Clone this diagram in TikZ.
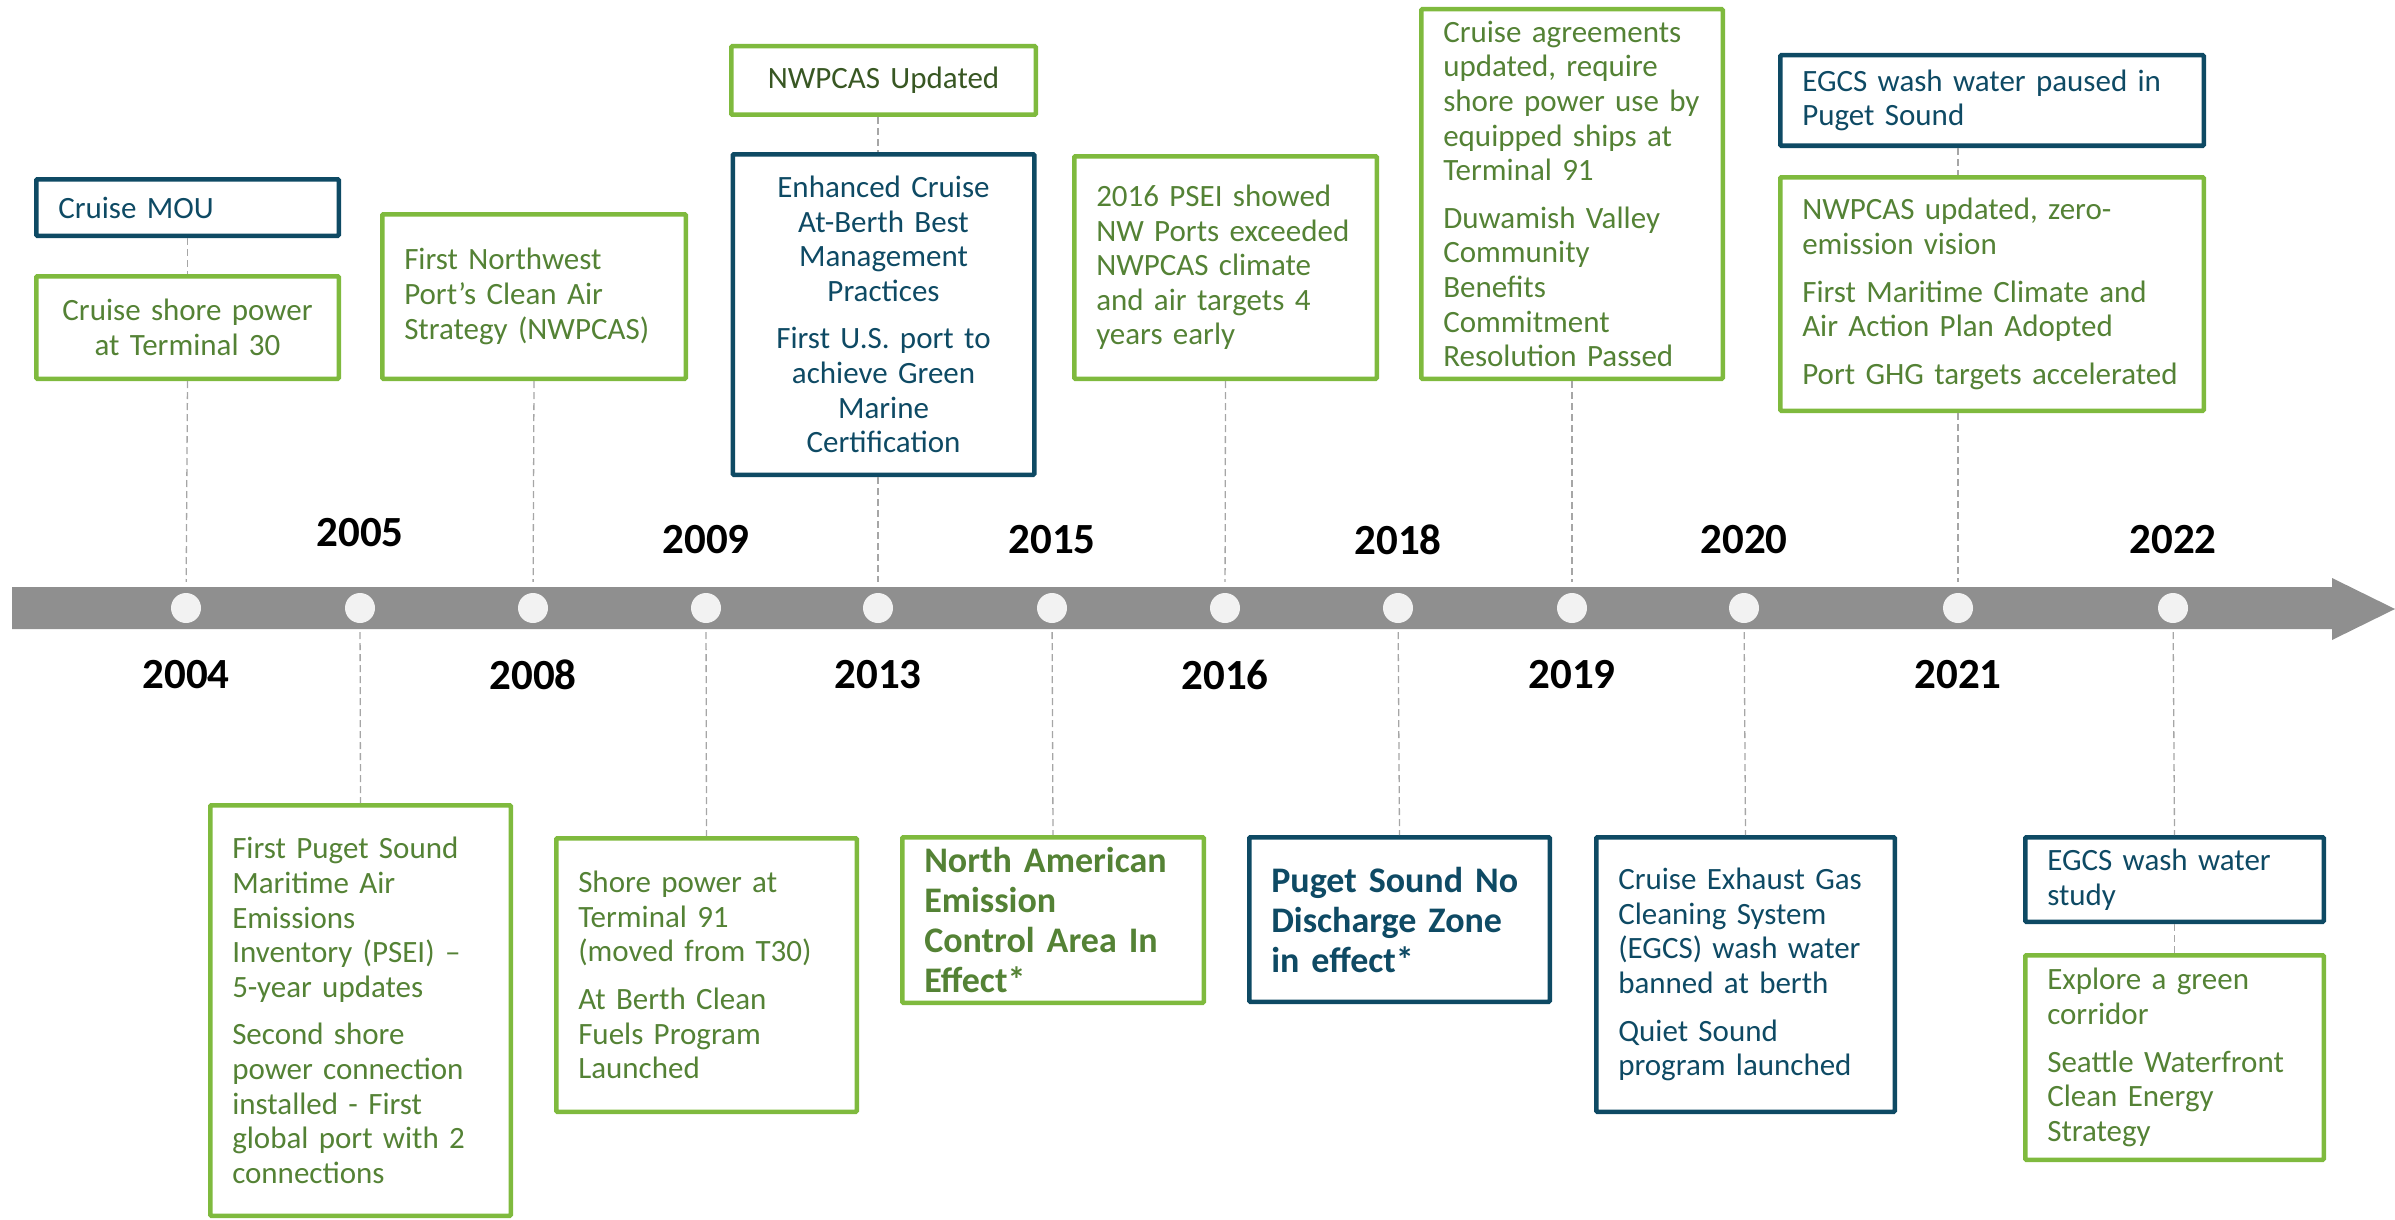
\documentclass[tikz,border=0pt]{standalone}
\usepackage{fontspec}
\setmainfont{Carlito}
\usepackage{xcolor}
\usepackage{tikz}
\usetikzlibrary{positioning}

\definecolor{portblue}{HTML}{0E4A64}
\definecolor{portgreen}{HTML}{7FBA3E}
\definecolor{greentext}{HTML}{548235}
\definecolor{nwtext}{HTML}{385723}
\definecolor{arrowgray}{HTML}{8F8F8F}
\definecolor{dotwhite}{HTML}{F2F2F2}
\definecolor{leadergray}{HTML}{A6A6A6}

\begin{document}
\begin{tikzpicture}[x=1pt, y=-1pt,
          event/.style = {rectangle, draw, line width=4.5pt, rounded corners=1pt,
            inner xsep=22pt, inner ysep=3pt, align=left,
            font=\fontsize{31}{34.6}\selectfont},
          green event/.style = {event, draw=portgreen, text=greentext},
          blue event/.style = {event, draw=portblue, text=portblue},
          key event/.style = {font=\fontsize{36}{40}\selectfont\bfseries},
          year/.style = {font=\fontsize{43}{50}\selectfont\bfseries, text=black},
          tick dot/.style = {circle, fill=dotwhite, minimum size=30pt, inner sep=0pt},
          leader/.style = {draw=leadergray, line width=1.3pt, dash pattern=on 7pt off 4pt}]
        \useasboundingbox (0,0) rectangle (2395,1220);

        % time axis
        \fill[arrowgray] (12,587) -- (2332,587) -- (2332,578) -- (2395,609)
            -- (2332,640) -- (2332,629) -- (12,629) -- cycle;

        \node[tick dot] (d04) at (186,608) {};
        \node[tick dot] (d05) at (360,608) {};
        \node[tick dot] (d08) at (533,608) {};
        \node[tick dot] (d09) at (706,608) {};
        \node[tick dot] (d13) at (878,608) {};
        \node[tick dot] (d15) at (1052,608) {};
        \node[tick dot] (d16) at (1225,608) {};
        \node[tick dot] (d18) at (1398,608) {};
        \node[tick dot] (d19) at (1572,608) {};
        \node[tick dot] (d20) at (1744,608) {};
        \node[tick dot] (d21) at (1958,608) {};
        \node[tick dot] (d22) at (2173,608) {};

        \node[year] (y04) at (186,675) {2004};
        \node[year] (y05) at (360,533) {2005};
        \node[year] (y08) at (533,675) {2008};
        \node[year] (y09) at (706,540) {2009};
        \node[year] (y13) at (878,675) {2013};
        \node[year] (y15) at (1052,540) {2015};
        \node[year] (y16) at (1225,675) {2016};
        \node[year] (y18) at (1398,540) {2018};
        \node[year] (y19) at (1572,675) {2019};
        \node[year] (y20) at (1744,540) {2020};
        \node[year] (y21) at (1958,675) {2021};
        \node[year] (y22) at (2173,540) {2022};

        % events above the axis
        \node[blue event, text width=258.5pt, minimum height=56.5pt]
            (mou) at (187.5,207.5) {Cruise MOU};
        \node[green event, align=center, text width=258.5pt, minimum height=102.5pt,
            below=36pt of mou] (shore30) {Cruise shore power\\at Terminal 30};
        \node[green event, text width=259.5pt, minimum height=164.5pt]
            (nwpcas) at (534,296.5) {First Northwest\\Port's Clean Air\\Strategy (NWPCAS)};
        \node[green event, align=center, text=nwtext, text width=260.5pt, minimum height=68.5pt]
            (nwupd) at (883.5,80.5) {NWPCAS Updated};
        \node[blue event, align=center, text width=257.5pt, minimum height=320.5pt,
            below=35pt of nwupd] (bmp)
            {Enhanced Cruise\\At-Berth Best\\Management\\Practices\\[13pt]First U.S. port to\\achieve Green\\Marine\\Certification};
        \node[green event, text width=258.5pt, minimum height=222.5pt]
            (psei) at (1225.5,267.5)
            {2016 PSEI showed\\NW Ports exceeded\\NWPCAS climate\\and air targets 4\\years early};
        \node[green event, text width=257.5pt, minimum height=369.5pt]
            (agree) at (1572,194)
            {Cruise agreements\\updated, require\\shore power use by\\equipped ships at\\Terminal 91\\[13pt]Duwamish Valley\\Community\\Benefits\\Commitment\\Resolution Passed};
        \node[blue event, text width=379.5pt, minimum height=90.5pt]
            (paused) at (1992,100.5) {EGCS wash water paused in\\Puget Sound};
        \node[green event, text width=379.5pt, minimum height=233.5pt,
            below=27pt of paused] (zero)
            {NWPCAS updated, zero-\\emission vision\\[13pt]First Maritime Climate and\\Air Action Plan Adopted\\[13pt]Port GHG targets accelerated};

        % events below the axis
        \node[green event, text width=256.5pt, minimum height=410.5pt]
            (inventory) at (360.5,1010.5)
            {First Puget Sound\\Maritime Air\\Emissions\\Inventory (PSEI) --\\5-year updates\\[13pt]Second shore\\power connection\\installed - First\\global port with 2\\connections};
        \node[green event, text width=256.5pt, minimum height=273.5pt]
            (shore91) at (706.5,975)
            {Shore power at\\Terminal 91\\(moved from T30)\\[13pt]At Berth Clean\\Fuels Program\\Launched};
        \node[green event, key event, text width=257.5pt, minimum height=165.5pt]
            (eca) at (1053,920) {North American\\Emission\\Control Area In\\Effect*};
        \node[blue event, key event, text width=256.5pt, minimum height=164.5pt]
            (ndz) at (1399.5,919.5) {Puget Sound No\\Discharge Zone\\in effect*};
        \node[blue event, text width=254.5pt, minimum height=274.5pt]
            (washban) at (1745.5,974.5)
            {Cruise Exhaust Gas\\Cleaning System\\(EGCS) wash water\\banned at berth\\[13pt]Quiet Sound\\program launched};
        \node[blue event, text width=254.5pt, minimum height=84.5pt]
            (study) at (2174.5,879.5) {EGCS wash water\\study};
        \node[green event, text width=254.5pt, minimum height=204.5pt,
            below=29pt of study] (corridor)
            {Explore a green\\corridor\\[13pt]Seattle Waterfront\\Clean Energy\\Strategy};

        % leaders
        \draw[leader] (mou.south) -- (shore30.north);
        \draw[leader, shorten >=11pt] (shore30.south) -- (d04);
        \draw[leader, shorten >=11pt] (nwpcas.south) -- (d08);
        \draw[leader] (nwupd.south -| d13) -- (bmp.north -| d13);
        \draw[leader, shorten >=11pt] (bmp.south -| d13) -- (d13);
        \draw[leader, shorten >=11pt] (psei.south) -- (d16);
        \draw[leader, shorten >=11pt] (agree.south) -- (d19);
        \draw[leader] (paused.south -| d21) -- (zero.north -| d21);
        \draw[leader, shorten >=11pt] (zero.south -| d21) -- (d21);
        \draw[leader, shorten <=9pt] (d05) -- (inventory.north);
        \draw[leader, shorten <=9pt] (d09) -- (shore91.north);
        \draw[leader, shorten <=9pt] (d15) -- (eca.north);
        \draw[leader, shorten <=9pt] (d18) -- (ndz.north);
        \draw[leader, shorten <=9pt] (d20) -- (washban.north);
        \draw[leader, shorten <=9pt] (d22) -- (study.north);
        \draw[leader] (study.south) -- (corridor.north);
\end{tikzpicture}
\end{document}
